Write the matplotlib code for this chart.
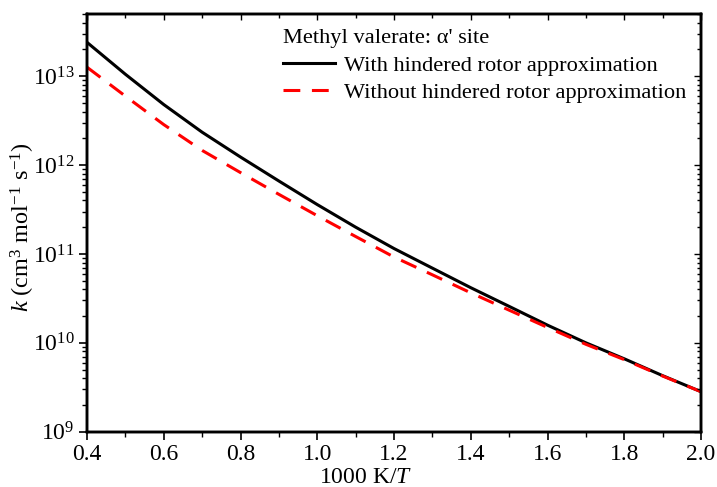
import matplotlib
matplotlib.use("Agg")
import matplotlib.pyplot as plt
from matplotlib.ticker import LogLocator, MultipleLocator, NullFormatter, LogFormatterMathtext

plt.rcParams['font.family'] = ['Liberation Serif', 'DejaVu Serif']
plt.rcParams['mathtext.fontset'] = 'custom'
plt.rcParams['mathtext.rm'] = 'Liberation Serif'
plt.rcParams['mathtext.it'] = 'Liberation Serif:italic'
plt.rcParams['mathtext.bf'] = 'Liberation Serif:bold'

inv_T = [0.4, 0.5, 0.6, 0.7, 0.8, 0.9, 1.0, 1.1, 1.2, 1.3, 1.4, 1.5, 1.6, 1.7, 1.8, 1.9, 2.0]
k_with_hr = [2.40e13, 1.05e13, 4.79e12, 2.34e12, 1.23e12, 6.61e11, 3.59e11, 2.00e11, 1.15e11,
             6.92e10, 4.17e10, 2.57e10, 1.58e10, 1.00e10, 6.61e9, 4.27e9, 2.82e9]
k_without_hr = [1.26e13, 5.96e12, 2.85e12, 1.46e12, 8.22e11, 4.68e11, 2.69e11, 1.57e11, 9.23e10,
                5.82e10, 3.65e10, 2.33e10, 1.49e10, 9.62e9, 6.47e9, 4.23e9, 2.82e9]

legend_title = "Methyl valerate: \u03b1' site"
label_with = "With hindered rotor approximation"
label_without = "Without hindered rotor approximation"

fig = plt.figure(figsize=(7.17, 4.87), dpi=100)
ax = fig.add_axes([87/717, 1 - 431.7/487, (701 - 87)/717, (431.7 - 14)/487])

ax.plot(inv_T, k_with_hr, color='black', lw=2.2, label=label_with)
ax.plot(inv_T, k_without_hr, color='#ff0000', lw=2.2, dashes=(5.5, 3.8), label=label_without)

ax.set_yscale('log')
ax.set_xlim(0.4, 2.0)
ax.set_ylim(1e9, 5e13)

ax.xaxis.set_major_locator(MultipleLocator(0.2))
ax.xaxis.set_minor_locator(MultipleLocator(0.1))
ax.xaxis.set_major_formatter(matplotlib.ticker.FormatStrFormatter('%.1f'))
ax.yaxis.set_major_locator(LogLocator(base=10, numticks=20))
ax.yaxis.set_minor_locator(LogLocator(base=10, subs=range(2, 10), numticks=20))
ax.yaxis.set_minor_formatter(NullFormatter())
ax.yaxis.set_major_formatter(LogFormatterMathtext())

for s in ax.spines.values():
    s.set_linewidth(1.7)

ax.tick_params(which='major', direction='out', length=6, width=1.2, labelsize=17, pad=3)
ax.tick_params(which='minor', direction='out', length=3.5, width=1.0)

# mirrored inward ticks on top and right
axt = ax.twiny()
axt.set_xlim(ax.get_xlim())
axt.xaxis.set_major_locator(MultipleLocator(0.2))
axt.xaxis.set_minor_locator(MultipleLocator(0.1))
axt.tick_params(which='both', direction='in', labeltop=False, top=True)
axt.tick_params(which='major', length=4, width=1.0)
axt.tick_params(which='minor', length=3, width=1.0)

axr = ax.twinx()
axr.set_yscale('log')
axr.set_ylim(ax.get_ylim())
axr.yaxis.set_major_locator(LogLocator(base=10, numticks=20))
axr.yaxis.set_minor_locator(LogLocator(base=10, subs=range(2, 10), numticks=20))
axr.tick_params(which='both', direction='in', labelright=False, right=True)
axr.tick_params(which='major', length=5, width=1.0)
axr.tick_params(which='minor', length=3, width=1.0)
for a in (axt, axr):
    for s in a.spines.values():
        s.set_linewidth(1.7)

ax.set_xlabel("1000 K/$T$", fontsize=17)
ax.xaxis.set_label_coords(0.454, -0.085)
ax.set_ylabel("$k$ (cm$^{3}$ mol$^{-1}$ s$^{-1}$)", fontsize=17.5)
ax.yaxis.set_label_coords(-0.082, 0.49)

leg = ax.legend(title=legend_title, loc='upper right', frameon=False, fontsize=16.1,
                title_fontsize=16.1, handlelength=2.3, handletextpad=0.4, labelspacing=0.3,
                borderaxespad=0.0, bbox_to_anchor=(0.99, 0.985))
leg._legend_box.align = 'left'

fig.savefig('out.png', dpi=100)
